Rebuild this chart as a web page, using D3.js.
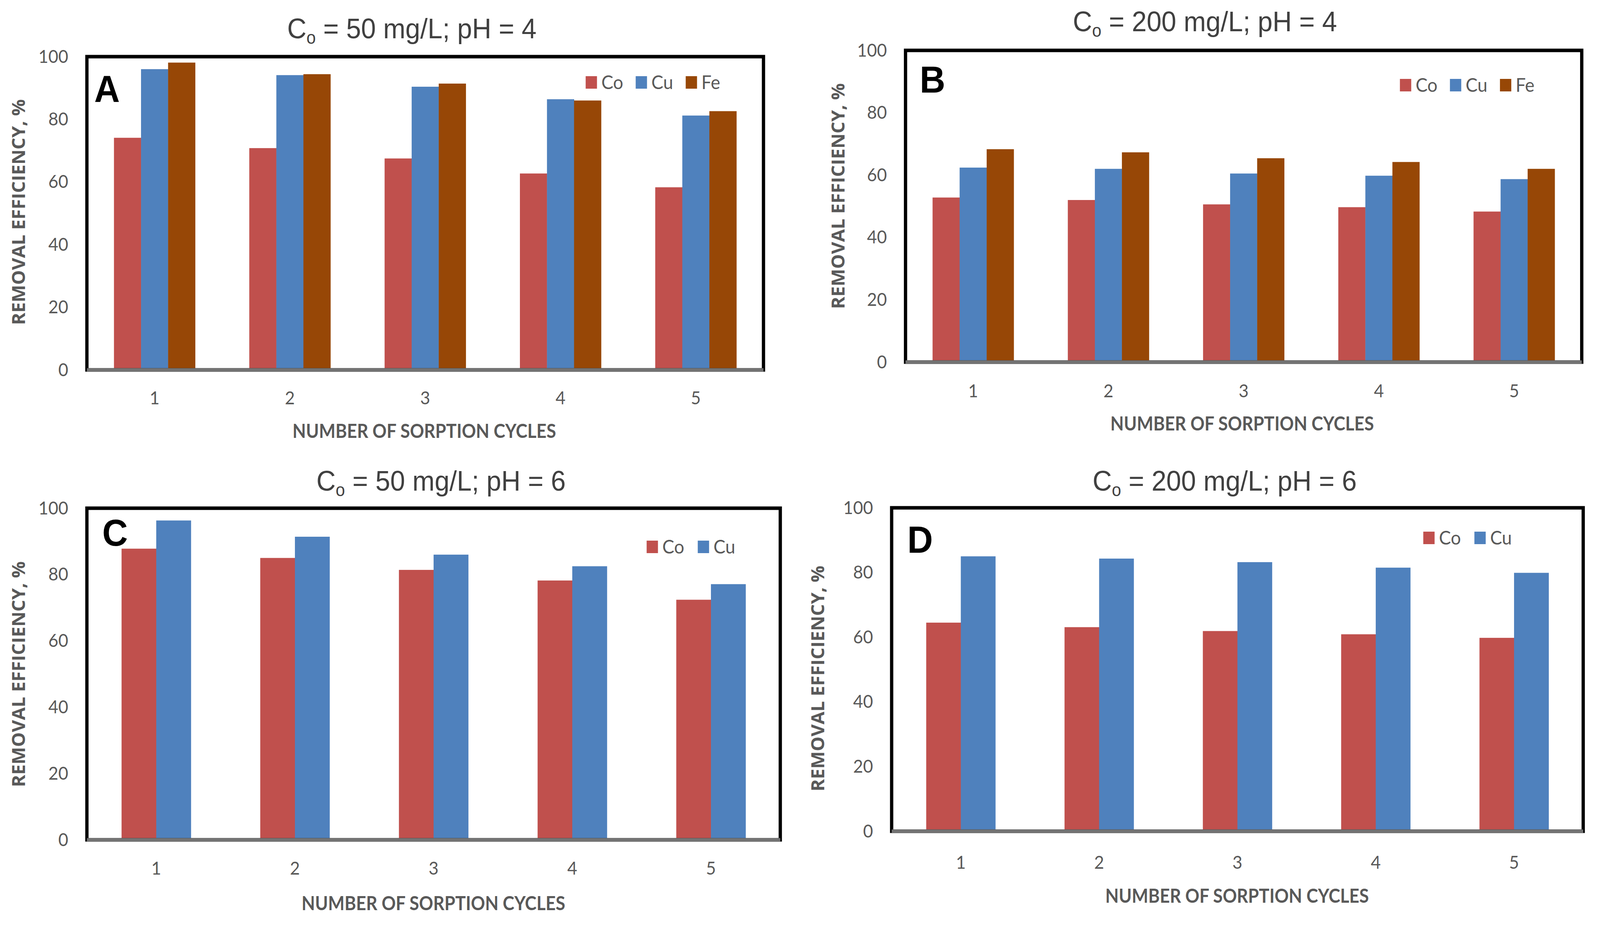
<!DOCTYPE html>
<html>
<head>
<meta charset="utf-8">
<script src="https://cdn.jsdelivr.net/npm/d3@7"></script>
<style>
  html, body { margin: 0; padding: 0; background: #fff; overflow: hidden; }
  svg { display: block; width: 100vw; height: 100vh; }
</style>
</head>
<body>
<svg viewBox="0 0 4382 2368" preserveAspectRatio="none"></svg>
<script>
// values
var cycles = ["1", "2", "3", "4", "5"];
var yTicks = [0, 20, 40, 60, 80, 100];
var metals3 = ["Co", "Cu", "Fe"];
var metals2 = ["Co", "Cu"];

var coA = [74.1, 70.8, 67.5, 62.7, 58.3];
var cuA = [96.0, 94.1, 90.4, 86.4, 81.2];
var feA = [98.1, 94.4, 91.4, 86.0, 82.6];

var coB = [52.8, 52.0, 50.6, 49.7, 48.3];
var cuB = [62.4, 62.0, 60.5, 59.8, 58.7];
var feB = [68.3, 67.3, 65.4, 64.2, 62.0];

var coC = [87.8, 85.0, 81.4, 78.2, 72.4];
var cuC = [96.3, 91.4, 86.0, 82.5, 77.1];

var coD = [64.5, 63.1, 61.9, 60.9, 59.8];
var cuD = [85.0, 84.3, 83.2, 81.5, 79.9];

var titles = ["50 mg/L; pH = 4", "200 mg/L; pH = 4", "50 mg/L; pH = 6", "200 mg/L; pH = 6"];
var letters = ["A", "B", "C", "D"];
var yLabel = "REMOVAL EFFICIENCY, %";
var xLabel = "NUMBER OF SORPTION CYCLES";

var colors = {Co: "#c0504d", Cu: "#4f81bd", Fe: "#974706"};
var grey = "#595959";

// panel layout
var panels = [
  {metals: metals3, values: [coA, cuA, feA], left: 238, right: 2091, top: 145, base: 947,
   title: [1128, 98], letter: [258, 261], legend: [1604, 195, 137], yTitle: [69, 543], xTitle: [1162, 1121], xPad: 55},
  {metals: metals3, values: [coB, cuB, feB], left: 2480, right: 4332, top: 129, base: 927,
   title: [3300, 80], letter: [2519, 237], legend: [3834, 202, 137], yTitle: [2313, 502], xTitle: [3402, 1102], xPad: 57},
  {metals: metals2, values: [coC, cuC], left: 238, right: 2137, top: 1301, base: 2150,
   title: [1208, 1256], letter: [280, 1397], legend: [1771, 1384, 140], yTitle: [68, 1726], xTitle: [1187, 2330], xPad: 56},
  {metals: metals2, values: [coD, cuD], left: 2442, right: 4336, top: 1300, base: 2128,
   title: [3354, 1256], letter: [2485, 1415], legend: [3898, 1361, 140], yTitle: [2257, 1737], xTitle: [3388, 2311], xPad: 63}
];

var svg = d3.select("svg");

panels.forEach(function(p, i) {
  var g = svg.append("g");
  var n = p.metals.length;
  var pad = 2 / (n + 2);   // gap width 200% of one bar

  var x0 = d3.scaleBand()
      .domain(cycles)
      .range([p.left, p.right])
      .paddingInner(pad)
      .paddingOuter(pad / 2);

  var x1 = d3.scaleBand()
      .domain(p.metals)
      .range([0, x0.bandwidth()]);

  var y = d3.scaleLinear()
      .domain([0, 100])
      .range([p.base, p.top]);

  // bars
  var rows = cycles.map(function(c, k) {
    return {cycle: c, vals: p.metals.map(function(m, j) { return {metal: m, v: p.values[j][k]}; })};
  });

  g.selectAll(".grp")
    .data(rows)
    .enter().append("g")
      .attr("class", "grp")
      .attr("transform", function(d) { return "translate(" + x0(d.cycle) + ",0)"; })
    .selectAll("rect")
    .data(function(d) { return d.vals; })
    .enter().append("rect")
      .attr("x", function(d) { return x1(d.metal); })
      .attr("width", x1.bandwidth() + 0.5)
      .attr("y", function(d) { return y(d.v); })
      .attr("height", function(d) { return p.base - y(d.v); })
      .attr("fill", function(d) { return colors[d.metal]; });

  // plot frame and category axis line
  g.append("rect")
      .attr("x", p.left)
      .attr("y", p.top)
      .attr("width", p.right - p.left)
      .attr("height", p.base - p.top)
      .attr("fill", "none")
      .attr("stroke", "#000")
      .attr("stroke-width", 9);

  g.append("line")
      .attr("x1", p.left)
      .attr("x2", p.right)
      .attr("y1", p.base)
      .attr("y2", p.base)
      .attr("stroke", "#737373")
      .attr("stroke-width", 9);

  // y axis labels
  var ya = g.append("g")
      .attr("transform", "translate(" + p.left + ",0)")
      .call(d3.axisLeft(y).tickValues(yTicks).tickSize(0).tickPadding(51));
  ya.select(".domain").remove();
  ya.selectAll("text")
      .attr("fill", grey)
      .style("font-family", "Lato, 'Open Sans', sans-serif")
      .style("font-size", "47px");

  // x axis labels
  var xa = g.append("g")
      .attr("transform", "translate(0," + p.base + ")")
      .call(d3.axisBottom(x0).tickSize(0).tickPadding(p.xPad));
  xa.select(".domain").remove();
  xa.selectAll("text")
      .attr("fill", grey)
      .style("font-family", "Lato, 'Open Sans', sans-serif")
      .style("font-size", "47px");

  // chart title with subscript
  var t = g.append("text")
      .attr("x", p.title[0])
      .attr("y", p.title[1])
      .attr("text-anchor", "middle")
      .attr("fill", "#404040")
      .style("font-family", "'Liberation Sans', Arial, sans-serif")
      .style("font-size", "73px");
  t.append("tspan").text("C");
  t.append("tspan").attr("dy", 14).style("font-size", "46px").text("o");
  t.append("tspan").attr("dy", -14).text(" = " + titles[i]);

  // panel letter
  g.append("text")
      .attr("x", p.letter[0])
      .attr("y", p.letter[1])
      .attr("fill", "#000")
      .style("font-family", "'Liberation Sans', Arial, sans-serif")
      .style("font-weight", "bold")
      .style("font-size", "97px")
      .text(letters[i]);

  // legend
  var lg = g.append("g")
      .attr("transform", "translate(" + p.legend[0] + "," + p.legend[1] + ")");
  var item = lg.selectAll(".item")
    .data(p.metals)
    .enter().append("g")
      .attr("class", "item")
      .attr("transform", function(d, j) { return "translate(" + j * p.legend[2] + ",0)"; });
  item.append("rect")
      .attr("width", 31)
      .attr("height", 32)
      .attr("fill", function(d) { return colors[d]; });
  item.append("text")
      .attr("x", 43)
      .attr("y", 33)
      .attr("fill", grey)
      .style("font-family", "Lato, 'Open Sans', sans-serif")
      .style("font-size", "49px")
      .text(function(d) { return d; });

  // axis titles
  g.append("text")
      .attr("transform", "translate(" + p.yTitle[0] + "," + p.yTitle[1] + ") rotate(-90)")
      .attr("text-anchor", "middle")
      .attr("fill", grey)
      .attr("textLength", 578)
      .attr("lengthAdjust", "spacingAndGlyphs")
      .style("font-family", "'Open Sans', 'DejaVu Sans', sans-serif")
      .style("font-weight", "bold")
      .style("font-size", "50px")
      .text(yLabel);

  g.append("text")
      .attr("x", p.xTitle[0])
      .attr("y", p.xTitle[1])
      .attr("text-anchor", "middle")
      .attr("fill", grey)
      .attr("textLength", 722)
      .attr("lengthAdjust", "spacingAndGlyphs")
      .style("font-family", "Lato, 'Open Sans', sans-serif")
      .style("font-weight", "bold")
      .style("font-size", "49px")
      .text(xLabel);
});
</script>
</body>
</html>
